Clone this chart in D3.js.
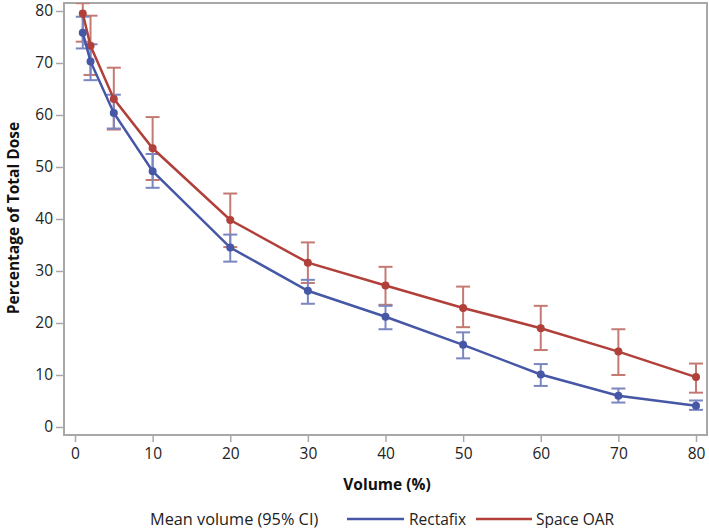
<!DOCTYPE html>
<html><head><meta charset="utf-8">
<script src="https://cdn.jsdelivr.net/npm/d3@7"></script>
<style>body{margin:0;background:#fff;} svg{display:block;}</style>
</head><body>
<script>
const volumes = [1, 2, 5, 10, 20, 30, 40, 50, 60, 70, 80];
const rectafixMean = [75.8, 70.3, 60.4, 49.2, 34.5, 26.2, 21.2, 15.8, 10.1, 6.0, 4.1];
const rectafixLow  = [72.8, 66.7, 57.4, 46.0, 31.8, 23.7, 18.8, 13.2, 7.9, 4.7, 3.3];
const rectafixHigh = [78.9, 73.6, 63.9, 52.5, 37.0, 28.3, 23.3, 18.2, 12.1, 7.4, 5.1];
const spaceMean = [79.5, 73.3, 63.1, 53.6, 39.8, 31.6, 27.2, 22.9, 19.0, 14.5, 9.6];
const spaceLow  = [74.1, 67.7, 57.2, 47.5, 34.6, 27.7, 23.5, 19.2, 14.8, 10.0, 6.6];
const spaceHigh = [81.5, 79.1, 69.1, 59.6, 44.9, 35.5, 30.8, 27.0, 23.3, 18.8, 12.2];
const xTicks = [0, 10, 20, 30, 40, 50, 60, 70, 80];
const yTicks = [0, 10, 20, 30, 40, 50, 60, 70, 80];

const W = 709, H = 528;
const font = "'Open Sans', sans-serif";
const svg = d3.select("body").append("svg").attr("width", W).attr("height", H);

const frame = {left: 64, right: 707, top: 3, bottom: 435};
const x = d3.scaleLinear().domain([0, 80]).range([75, 696]);
const y = d3.scaleLinear().domain([0, 80]).range([427, 11]);

const axisColor = "#a8a8a8";

svg.append("clipPath").attr("id", "clip").append("rect")
  .attr("x", frame.left).attr("y", frame.top)
  .attr("width", frame.right - frame.left).attr("height", frame.bottom - frame.top);

const yAx = svg.append("g").attr("transform", `translate(${frame.left},0)`)
  .call(d3.axisLeft(y).tickValues(yTicks).tickSize(8).tickPadding(3));
yAx.select(".domain").remove();
yAx.selectAll("line").attr("stroke", axisColor).attr("stroke-width", 1.5);
yAx.selectAll("text").attr("font-family", font).attr("font-size", 15.5).attr("fill", "#222");

const xAx = svg.append("g").attr("transform", `translate(0,${frame.bottom})`)
  .call(d3.axisBottom(x).tickValues(xTicks).tickSize(7).tickPadding(6));
xAx.select(".domain").remove();
xAx.selectAll("line").attr("stroke", axisColor).attr("stroke-width", 1.5);
xAx.selectAll("text").attr("font-family", font).attr("font-size", 15.5).attr("fill", "#222");

svg.append("rect").attr("x", frame.left).attr("y", frame.top)
  .attr("width", frame.right - frame.left).attr("height", frame.bottom - frame.top)
  .attr("fill", "none").attr("stroke", axisColor).attr("stroke-width", 2);

const series = [
  {name: "Space OAR", mean: spaceMean, low: spaceLow, high: spaceHigh, color: "#b1403a", ebar: "#c47a72"},
  {name: "Rectafix", mean: rectafixMean, low: rectafixLow, high: rectafixHigh, color: "#4657a6", ebar: "#7a86c0"}
];

const plot = svg.append("g").attr("clip-path", "url(#clip)");
const line = d3.line().x((d, i) => x(volumes[i])).y(d => y(d));
const cap = 7;

series.forEach(s => {
  const g = plot.append("g");
  volumes.forEach((v, i) => {
    const cx = x(v);
    g.append("line").attr("x1", cx).attr("x2", cx).attr("y1", y(s.low[i])).attr("y2", y(s.high[i]))
      .attr("stroke", s.ebar).attr("stroke-width", 2);
    [s.low[i], s.high[i]].forEach(val => {
      g.append("line").attr("x1", cx - cap).attr("x2", cx + cap).attr("y1", y(val)).attr("y2", y(val))
        .attr("stroke", s.ebar).attr("stroke-width", 2);
    });
  });
});
series.forEach(s => {
  plot.append("path").datum(s.mean).attr("d", line).attr("fill", "none")
    .attr("stroke", s.color).attr("stroke-width", 2.5);
  plot.selectAll(null).data(s.mean).enter().append("circle")
    .attr("cx", (d, i) => x(volumes[i])).attr("cy", d => y(d)).attr("r", 4)
    .attr("fill", s.color);
});

svg.append("text").attr("x", 387).attr("y", 490)
  .attr("text-anchor", "middle").attr("font-family", font).attr("font-size", 15.5)
  .attr("font-weight", "bold").attr("fill", "#111").text("Volume (%)");
svg.append("text").attr("transform", `translate(19,218) rotate(-90)`)
  .attr("text-anchor", "middle").attr("font-family", font).attr("font-size", 15.5)
  .attr("font-weight", "bold").attr("fill", "#111").text("Percentage of Total Dose");

const ly = 519;
svg.append("text").attr("x", 150).attr("y", ly + 5.5).attr("font-family", font).attr("font-size", 16.3)
  .attr("fill", "#222").text("Mean volume (95% CI)");
const legendItems = [
  {name: "Rectafix", color: "#4657a6", x1: 347, x2: 404, tx: 409},
  {name: "Space OAR", color: "#b1403a", x1: 476, x2: 532, tx: 536}
];
legendItems.forEach(l => {
  svg.append("line").attr("x1", l.x1).attr("x2", l.x2).attr("y1", ly).attr("y2", ly)
    .attr("stroke", l.color).attr("stroke-width", 2.5);
  svg.append("text").attr("x", l.tx).attr("y", ly + 5.5).attr("font-family", font).attr("font-size", 15.5)
    .attr("fill", "#222").text(l.name);
});
</script>
</body></html>
